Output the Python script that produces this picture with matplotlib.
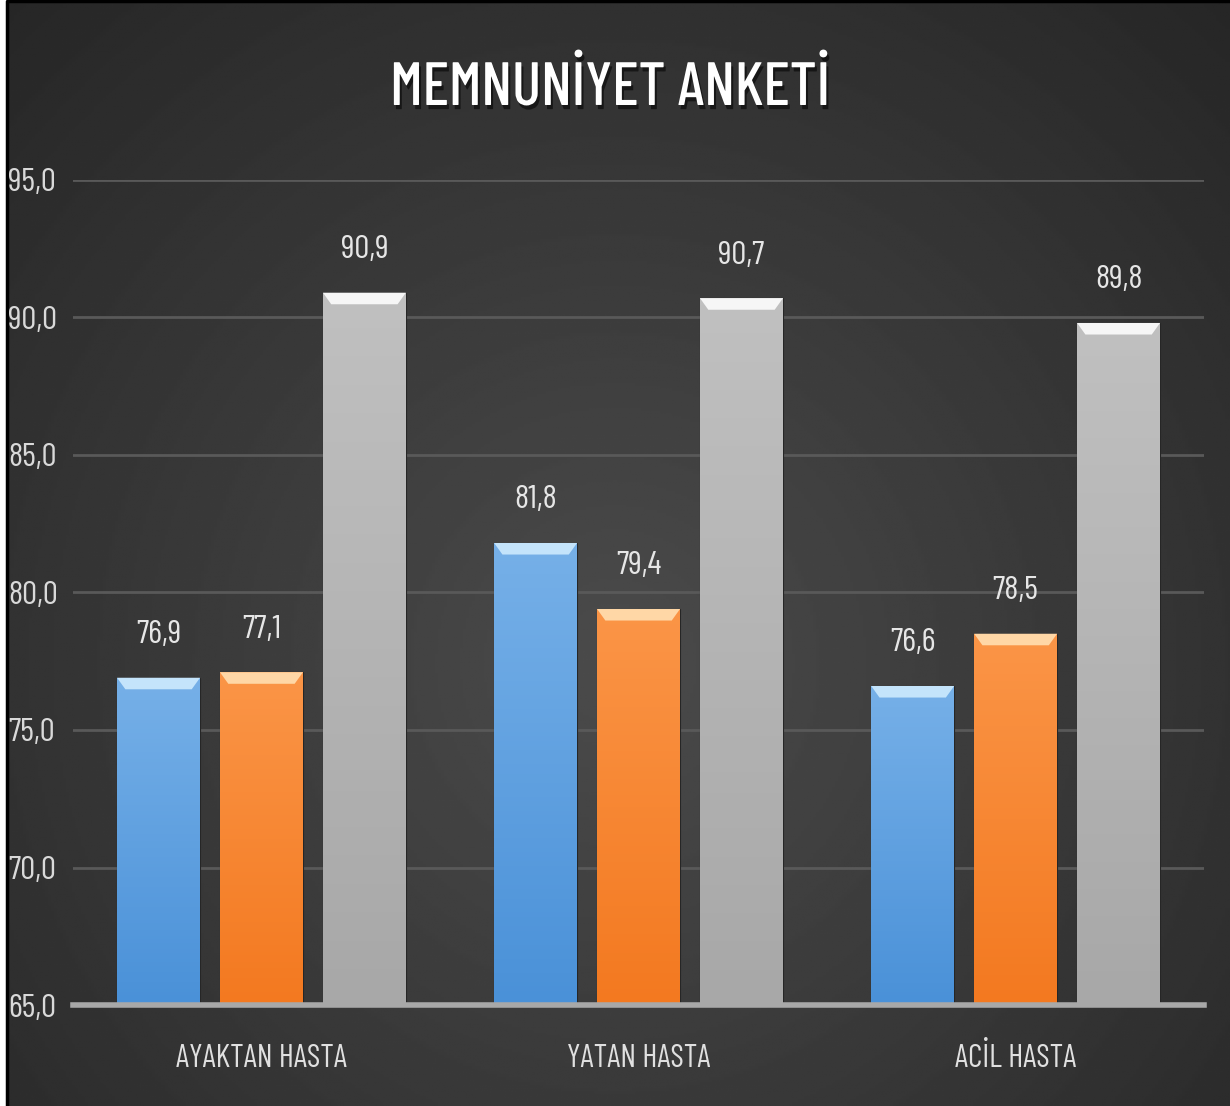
import numpy as np
import matplotlib.pyplot as plt
import matplotlib.patheffects as pe
from matplotlib.colors import LinearSegmentedColormap

categories = ["AYAKTAN HASTA", "YATAN HASTA", "ACİL HASTA"]
series1 = [76.9, 81.8, 76.6]
series2 = [77.1, 79.4, 78.5]
series3 = [90.9, 90.7, 89.8]
yticks = [65, 70, 75, 80, 85, 90, 95]

plt.rcParams['font.family'] = ['Barlow Condensed', 'DejaVu Sans']

fig = plt.figure(figsize=(12.3, 11.06), dpi=100)

# dark radial gradient behind everything
bg = fig.add_axes([0, 0, 1, 1])
yy, xx = np.mgrid[0:1:400j, 0:1:400j]
r = np.sqrt(((xx - 0.5) / 0.75) ** 2 + ((yy - 0.6) / 0.85) ** 2)
shade = 0.295 - 0.15 * np.clip(r, 0, 1)
bg.imshow(shade, cmap="gray", vmin=0, vmax=1, extent=[0, 1, 0, 1], aspect="auto")
bg.set_xlim(0, 1)
bg.set_ylim(0, 1)
bg.axis("off")
bg.fill_between([0, 0.006], 0, 1, color="white", lw=0)
bg.plot([0.006, 0.006, 1], [0, 0.999, 0.999], color="black", lw=2.5)

ax = fig.add_axes([0.0593, 0.0913, 0.9197, 0.746])
ax.patch.set_alpha(0)
ax.set_xlim(-0.5, 2.5)
ax.set_ylim(65, 95)

x = np.arange(len(categories))
w = 0.22
off = 0.273
colors = [("#4a91d8", "#76b0e8", "#c4e4fb"),
          ("#f37920", "#fb9547", "#ffd7a6"),
          ("#a8a8a8", "#c0c0c0", "#f6f6f6")]
grad = np.linspace(0, 1, 100).reshape(-1, 1)
for k, vals in enumerate([series1, series2, series3]):
    c_lo, c_hi, c_top = colors[k]
    cmap = LinearSegmentedColormap.from_list("g%d" % k, [c_lo, c_hi])
    bars = ax.bar(x + (k - 1) * off, vals, w, bottom=0, color=c_lo, zorder=2,
                  edgecolor="#262626", linewidth=0.8)
    for b, v in zip(bars, vals):
        x0 = b.get_x()
        im = ax.imshow(grad, cmap=cmap, origin="lower", aspect="auto",
                       extent=[x0, x0 + w, 65, v], zorder=2)
        im.set_clip_path(b)
        # bevel on top of the bar
        ax.fill([x0, x0 + w, x0 + w * 0.9, x0 + w * 0.1],
                [v, v, v - 0.42, v - 0.42], color=c_top, zorder=3, lw=0)
        ax.text(x0 + w / 2, v + 1.55, ("%.1f" % v).replace(".", ","),
                ha="center", va="center", color="#e6e6e6", fontsize=24, zorder=4)

ax.set_yticks(yticks)
ax.set_yticklabels([("%.1f" % t).replace(".", ",") for t in yticks])
ax.set_xticks(x)
ax.set_xticklabels(categories)
ax.tick_params(axis="y", length=0, pad=0, labelsize=24, colors="#d9d9d9")
ax.tick_params(axis="x", length=0, pad=44.5, labelsize=23, colors="#e0e0e0")
for lab in ax.get_yticklabels():
    lab.set_horizontalalignment("left")
    lab.set_x(-0.0575)
for lab in ax.get_xticklabels():
    lab.set_verticalalignment("baseline")
ax.grid(axis="y", color="#595959", lw=2, zorder=1)
ax.set_axisbelow(True)
for s in ["top", "right", "left"]:
    ax.spines[s].set_visible(False)
ax.spines["bottom"].set_color("#a8a8a8")
ax.spines["bottom"].set_linewidth(4)
ax.spines["bottom"].set_zorder(5)

fig.text(0.496, 1 - 105 / 1106, "MEMNUNİYET ANKETİ", ha="center", va="baseline",
         fontsize=44, color="white", fontweight="medium",
         path_effects=[pe.withSimplePatchShadow(offset=(1.5, -3), shadow_rgbFace="black", alpha=0.55)])

fig.savefig("out.png", dpi=100)
